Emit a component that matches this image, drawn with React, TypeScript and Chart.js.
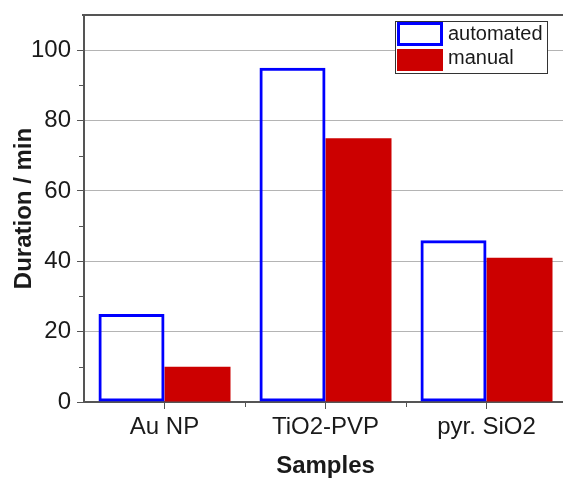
import React, { useEffect, useRef } from 'react';
import { Chart, registerables } from 'chart.js';

Chart.register(...registerables);

const categories = ['Au NP', 'TiO2-PVP', 'pyr. SiO2'];
const automated = [25, 95, 46];
const manual = [10, 75, 41];
const seriesNames = ['automated', 'manual'];
const yMax = 110;

const FONT = "'Liberation Sans', Arial, Helvetica, sans-serif";
const AXIS = '#555555';
const GRID = '#b4b4b4';
const TEXT = '#1a1a1a';
const BLUE = '#0000ff';
const RED = '#cc0000';
const CLEAR = 'rgba(0,0,0,0)';

const extrasPlugin = {
  id: 'extras',
  afterDraw(chart: any) {
    const { ctx, chartArea } = chart;
    const x = chart.scales.x;
    const y = chart.scales.y;
    ctx.save();
    // top frame line
    ctx.strokeStyle = AXIS;
    ctx.lineWidth = 2;
    ctx.beginPath();
    ctx.moveTo(chartArea.left - 2, chartArea.top);
    ctx.lineTo(chartArea.right, chartArea.top);
    ctx.stroke();
    // minor y ticks
    ctx.lineWidth = 1;
    for (let v = 10; v < yMax; v += 20) {
      const py = Math.round(y.getPixelForValue(v)) + 0.5;
      ctx.beginPath();
      ctx.moveTo(chartArea.left - 5, py);
      ctx.lineTo(chartArea.left, py);
      ctx.stroke();
    }
    // minor x ticks at category boundaries
    for (let i = 0; i < categories.length - 1; i++) {
      const px = Math.round((x.getPixelForValue(i) + x.getPixelForValue(i + 1)) / 2) + 0.5;
      ctx.beginPath();
      ctx.moveTo(px, chartArea.bottom);
      ctx.lineTo(px, chartArea.bottom + 5);
      ctx.stroke();
    }
    // legend
    const lx = chartArea.right - 172;
    const ly = chartArea.top + 6;
    const lw = 152;
    const lh = 52;
    ctx.fillStyle = '#ffffff';
    ctx.fillRect(lx, ly, lw, lh);
    ctx.strokeStyle = '#333333';
    ctx.lineWidth = 1;
    ctx.strokeRect(lx + 0.5, ly + 0.5, lw, lh);
    ctx.strokeStyle = BLUE;
    ctx.lineWidth = 3;
    ctx.strokeRect(lx + 2 + 1.5, ly + 1 + 1.5, 46 - 3, 24 - 3);
    ctx.fillStyle = RED;
    ctx.fillRect(lx + 2, ly + 28, 46, 22);
    ctx.fillStyle = TEXT;
    ctx.font = `20px ${FONT}`;
    ctx.textBaseline = 'middle';
    ctx.textAlign = 'left';
    ctx.fillText(seriesNames[0], lx + 53, ly + 13.5);
    ctx.fillText(seriesNames[1], lx + 53, ly + 37.5);
    ctx.restore();
  },
};

export default function App() {
  const ref = useRef<HTMLCanvasElement | null>(null);
  useEffect(() => {
    if (!ref.current) return;
    const chart = new Chart(ref.current, {
      type: 'bar',
      data: {
        labels: categories,
        datasets: [
          {
            label: seriesNames[0],
            data: automated,
            backgroundColor: CLEAR,
            borderColor: BLUE,
            borderWidth: 3,
            borderSkipped: false,
          },
          {
            label: seriesNames[1],
            data: manual,
            backgroundColor: RED,
            borderWidth: 0,
          },
        ],
      },
      options: {
        animation: false,
        responsive: false,
        layout: { padding: { top: 15, left: 0, right: 0, bottom: 0 } },
        plugins: { legend: { display: false }, tooltip: { enabled: false } },
        datasets: { bar: { categoryPercentage: 0.82, barPercentage: 1 } },
        scales: {
          x: {
            grid: {
              offset: false,
              drawOnChartArea: false,
              tickLength: 7,
              tickColor: AXIS,
              tickWidth: 1,
            },
            border: { color: AXIS, width: 2 },
            ticks: { font: { family: FONT, size: 24 }, color: TEXT, padding: 4 },
            title: {
              display: true,
              text: 'Samples',
              font: { family: FONT, size: 24, weight: 'bold', lineHeight: 1 },
              color: TEXT,
              padding: 0,
            },
            afterFit: (s: any) => {
              s.height = 76;
              s.paddingLeft = 0;
              s.paddingRight = 0;
            },
          },
          y: {
            min: 0,
            max: yMax,
            ticks: {
              stepSize: 10,
              callback: (v: any) => (Number(v) % 20 === 0 ? String(v) : ''),
              font: { family: FONT, size: 24 },
              color: TEXT,
              padding: 6,
            },
            grid: {
              color: (c: any) =>
                c.tick && c.tick.value % 20 === 0 && c.tick.value > 0 && c.tick.value < yMax ? GRID : CLEAR,
              tickColor: (c: any) => (c.tick && c.tick.value % 20 === 0 ? AXIS : CLEAR),
              tickLength: 7,
              lineWidth: 1,
            },
            border: { color: AXIS, width: 2 },
            title: {
              display: true,
              text: 'Duration / min',
              font: { family: FONT, size: 24, weight: 'bold', lineHeight: 1.2 },
              color: TEXT,
              padding: { top: 10, bottom: 0 },
            },
            afterFit: (s: any) => {
              s.width = 84;
              s.paddingTop = 0;
              s.paddingBottom = 0;
            },
          },
        },
      },
      plugins: [extrasPlugin],
    } as any);
    return () => chart.destroy();
  }, []);

  return (
    <div
      style={{
        position: 'fixed',
        left: 0,
        top: 0,
        width: 563,
        height: 478,
        overflow: 'hidden',
        background: '#ffffff',
      }}
    >
      <canvas ref={ref} width={567} height={478} style={{ display: 'block' }} />
    </div>
  );
}
